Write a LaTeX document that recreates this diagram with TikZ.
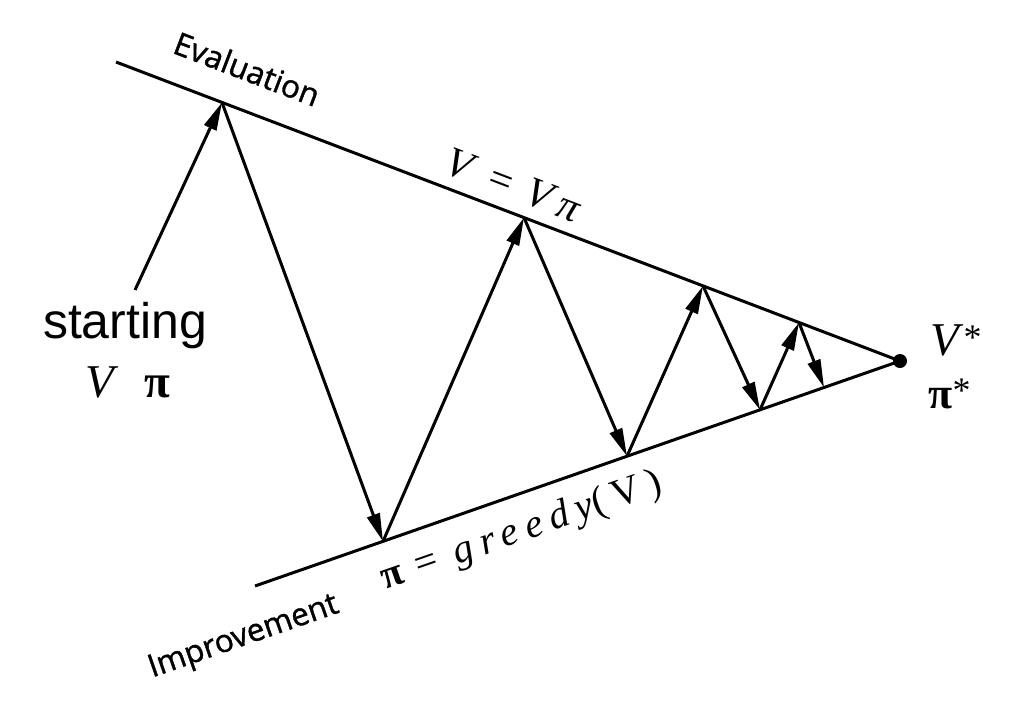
\documentclass[tikz,border=0pt]{standalone}
\usepackage{fontspec}
\setmainfont{Liberation Serif}
\newfontfamily\labfont[FakeBold=1.2]{Open Sans}
\newfontfamily\helv{Liberation Sans}
\newfontfamily\spcfont[LetterSpace=20]{Liberation Serif}
\usetikzlibrary{arrows.meta}
\begin{document}
\begin{tikzpicture}[x=1pt,y=-1pt,line width=3pt,
  arr/.style={-{Triangle[length=28pt,width=13pt]}},
  lbl/.style={inner sep=0pt,font=\labfont\fontsize{31.5}{31.5}\selectfont},
  txt/.style={inner sep=0pt}]
\useasboundingbox[fill=white] (0,0) rectangle (1022,718);
% frame lines
\coordinate (TL) at (116,62);
\coordinate (BL) at (255,586);
\node[circle,fill=black,inner sep=0pt,minimum size=14pt] (P) at (900,361) {};
\draw (TL) -- (P.center);
\draw (BL) -- (P.center);
% touch points
\coordinate (T1) at (222,102.5);
\coordinate (T2) at (524,217.6);
\coordinate (T3) at (703,285.9);
\coordinate (T4) at (799,322.5);
\coordinate (B1) at (383,541.4);
\coordinate (B2) at (627,456.2);
\coordinate (B3) at (760,409.9);
\coordinate (B4) at (824,387.5);
\coordinate (S) at (135,290);
% arrows
\draw[arr] (S) -- (T1);
\draw[arr] (T1) -- (B1);
\draw[arr] (B1) -- (T2);
\draw[arr] (T2) -- (B2);
\draw[arr] (B2) -- (T3);
\draw[arr] (T3) -- (B3);
\draw[arr] (B3) -- (T4);
\draw[arr] (T4) -- (B4);
% labels
\node[lbl,anchor=base west,rotate=-20.9] (ev) at (170,52) {Evaluation};
\node[lbl,anchor=base west,rotate=19.2] (im) at (151,678) {Improvement};
\node[txt,anchor=base west,rotate=-20.9,font=\fontsize{42}{42}\selectfont] (vv) at (441,172) {\textit{V}\hspace{16pt}=\hspace{16pt}\textit{V}\hspace{5pt}\textit{π}};
\node[txt,anchor=base west,rotate=19.2,font=\fontsize{40}{40}\selectfont] (gr) at (384,590) {\textbf{π}\hspace{14pt}=\hspace{18pt}{\spcfont\itshape greedy}{\spcfont (V)}};
\node[txt,anchor=base,font=\helv\fontsize{50}{50}\selectfont] (st) at (125,338) {starting};
\node[txt,anchor=base west,font=\fontsize{47}{47}\selectfont] (vp) at (84,397) {\textit{V}\hspace{26pt}\textbf{π}};
\node[txt,anchor=base west,font=\fontsize{47}{47}\selectfont] (vs) at (929,355) {\textit{V}\raisebox{6pt}{\fontsize{36}{36}\selectfont *}};
\node[txt,anchor=base west,font=\fontsize{44}{44}\selectfont] (ps) at (927,408) {\textbf{π}\raisebox{6pt}{\fontsize{36}{36}\selectfont *}};
\end{tikzpicture}
\end{document}
